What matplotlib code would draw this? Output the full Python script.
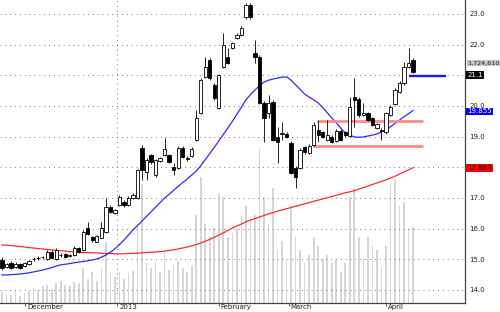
import matplotlib
matplotlib.use("Agg")
import matplotlib.pyplot as plt
import numpy as np

# daily candles, oldest first
opens = [14.98, 14.75, 14.88, 14.75, 14.85, 14.78, 14.85, 15.00, 15.03, 15.06,
         15.01, 15.24, 15.01, 15.13, 15.17, 15.12, 15.14, 15.37, 15.31, 16.02,
         15.73, 15.57, 15.70, 15.89, 16.71, 16.51, 16.77, 16.87, 16.77, 17.00,
         17.00, 18.63, 17.85, 18.40, 17.75, 18.21, 18.40, 18.40, 18.01, 17.98,
         18.63, 18.30, 18.37, 18.89, 19.77, 20.95, 21.50, 20.69, 19.94, 21.27,
         21.60, 21.89, 22.22, 22.32, 22.90, 23.29, 21.73, 21.60, 20.10, 19.77,
         20.13, 18.99, 19.09, 19.09, 18.79, 17.98, 17.98, 18.66, 18.47, 18.73,
         19.22, 19.15, 18.89, 18.99, 18.86, 19.19, 19.15, 19.02, 20.29, 20.23,
         19.71, 19.77, 19.61, 19.28, 19.20, 19.15, 19.71, 20.07, 20.46, 20.75,
         21.27, 21.50]
highs = [15.08, 14.88, 14.95, 14.90, 14.88, 14.92, 14.98, 15.08, 15.10, 15.12,
         15.30, 15.30, 15.37, 15.20, 15.20, 15.17, 15.42, 15.40, 15.95, 16.22,
         15.76, 15.80, 16.22, 17.00, 16.78, 16.65, 17.10, 16.92, 17.05, 17.15,
         17.95, 18.73, 18.30, 18.45, 18.28, 18.34, 18.96, 18.45, 18.14, 18.68,
         18.68, 18.37, 18.66, 19.87, 20.90, 21.60, 21.55, 20.75, 21.05, 22.38,
         21.89, 22.10, 22.38, 22.60, 23.36, 23.36, 22.15, 21.65, 20.15, 20.36,
         20.20, 19.32, 19.48, 19.15, 18.85, 18.05, 18.62, 18.70, 18.75, 19.48,
         19.54, 19.20, 19.54, 19.05, 19.25, 19.25, 19.20, 20.29, 20.91, 20.30,
         20.10, 19.82, 19.65, 19.45, 19.28, 19.82, 20.02, 20.58, 20.80, 21.43,
         21.89, 21.55]
lows = [14.65, 14.72, 14.70, 14.72, 14.68, 14.75, 14.80, 14.95, 14.98, 15.02,
        14.98, 15.00, 14.98, 15.08, 15.05, 15.08, 15.11, 15.20, 15.28, 15.80,
        15.58, 15.55, 15.68, 15.85, 16.50, 16.48, 16.74, 16.72, 16.74, 16.97,
        16.97, 17.59, 17.59, 18.10, 17.70, 18.18, 18.37, 18.14, 17.75, 17.95,
        18.30, 18.21, 18.34, 18.86, 19.74, 20.91, 20.85, 20.20, 19.90, 21.23,
        21.36, 21.85, 22.18, 22.28, 22.85, 22.85, 21.40, 20.05, 18.83, 19.61,
        18.85, 18.14, 18.89, 18.96, 17.78, 17.33, 17.95, 18.45, 18.44, 18.70,
        18.83, 18.95, 18.86, 18.80, 18.83, 18.86, 19.00, 18.99, 19.32, 19.65,
        19.68, 19.50, 19.35, 19.25, 18.89, 19.10, 19.68, 20.04, 20.42, 20.70,
        21.23, 21.08]
closes = [14.72, 14.85, 14.72, 14.85, 14.72, 14.88, 14.95, 15.02, 15.04, 15.08,
          15.24, 15.04, 15.31, 15.14, 15.08, 15.13, 15.37, 15.24, 15.89, 15.83,
          15.63, 15.76, 16.02, 16.71, 16.54, 16.61, 17.03, 16.77, 17.00, 17.10,
          17.91, 17.91, 18.24, 18.17, 18.24, 18.30, 18.60, 18.17, 17.91, 18.63,
          18.34, 18.28, 18.60, 19.61, 20.85, 21.27, 20.91, 20.26, 21.01, 21.99,
          21.40, 22.05, 22.32, 22.54, 23.29, 22.90, 21.60, 20.10, 19.61, 20.10,
          18.89, 18.83, 19.12, 18.99, 17.82, 17.69, 18.57, 18.50, 18.70, 19.38,
          19.05, 18.99, 19.05, 18.83, 19.19, 18.89, 19.05, 19.97, 20.20, 19.71,
          19.77, 19.54, 19.38, 19.41, 19.22, 19.77, 19.97, 20.52, 20.75, 21.27,
          21.40, 21.11]
volumes = [0.25, 0.20, 0.18, 0.30, 0.15, 0.22, 0.28, 0.35, 0.30, 0.38,
           0.40, 0.32, 0.45, 0.50, 0.42, 0.38, 0.48, 0.45, 0.80, 0.55,
           0.70, 0.50, 0.78, 1.38, 0.70, 0.60, 0.70, 0.55, 0.68, 0.72,
           1.75, 2.70, 0.90, 0.80, 0.95, 0.70, 1.15, 0.75, 0.85, 0.95,
           0.80, 0.70, 0.85, 2.00, 2.85, 1.80, 1.50, 1.70, 2.50, 2.40,
           1.50, 1.60, 1.70, 2.00, 2.20, 1.90, 2.00, 3.50, 2.40, 1.80,
           2.60, 1.20, 1.40, 1.00, 2.20, 1.50, 1.20, 0.90, 1.10, 1.50,
           1.30, 1.00, 1.10, 0.90, 1.00, 0.70, 0.90, 2.40, 2.60, 1.50,
           1.00, 1.50, 1.30, 1.20, 0.80, 1.30, 2.70, 2.80, 2.20, 2.30,
           1.70, 1.724610]  # millions

ma20 = [14.49, 14.49, 14.50, 14.51, 14.52, 14.54, 14.56, 14.59, 14.62, 14.65,
        14.69, 14.73, 14.78, 14.82, 14.84, 14.86, 14.89, 14.91, 14.93, 14.95,
        14.98, 15.01, 15.07, 15.14, 15.23, 15.34, 15.48, 15.63, 15.79, 15.96,
        16.10, 16.25, 16.40, 16.55, 16.70, 16.85, 17.00, 17.12, 17.25, 17.38,
        17.50, 17.62, 17.75, 17.88, 18.05, 18.25, 18.45, 18.65, 18.86, 19.07,
        19.28, 19.50, 19.73, 19.96, 20.20, 20.37, 20.52, 20.66, 20.78, 20.84,
        20.88, 20.91, 20.94, 20.95, 20.84, 20.69, 20.54, 20.39, 20.29, 20.20,
        20.10, 19.95, 19.78, 19.61, 19.45, 19.28, 19.12, 19.05, 18.99, 18.98,
        18.99, 19.02, 19.05, 19.09, 19.15, 19.22, 19.32, 19.43, 19.54, 19.65,
        19.75, 19.855]
ma50 = [15.47, 15.46, 15.45, 15.43, 15.42, 15.40, 15.38, 15.37, 15.35, 15.34,
        15.32, 15.31, 15.29, 15.28, 15.27, 15.25, 15.24, 15.23, 15.22, 15.22,
        15.21, 15.21, 15.20, 15.19, 15.19, 15.18, 15.18, 15.18, 15.19, 15.19,
        15.20, 15.21, 15.22, 15.23, 15.24, 15.25, 15.27, 15.29, 15.31, 15.34,
        15.37, 15.40, 15.44, 15.48, 15.53, 15.59, 15.65, 15.72, 15.79, 15.86,
        15.94, 16.02, 16.09, 16.15, 16.22, 16.28, 16.33, 16.38, 16.43, 16.48,
        16.52, 16.57, 16.61, 16.65, 16.69, 16.73, 16.77, 16.81, 16.85, 16.89,
        16.93, 16.97, 17.01, 17.05, 17.09, 17.13, 17.17, 17.20, 17.24, 17.29,
        17.34, 17.39, 17.44, 17.49, 17.54, 17.59, 17.65, 17.71, 17.78, 17.85,
        17.92, 17.988]

month_labels = ["December", "2013", "February", "March", "April"]
month_pos = [5.1, 25.5, 48.0, 63.5, 85.0]
price_ticks = [14, 15, 16, 17, 18, 19, 20, 21, 22, 23]

support = 18.70
resistance = 19.51
alert = 20.98

n = len(closes)
idx = np.arange(n)
o = np.array(opens); c = np.array(closes)
h = np.array(highs); l = np.array(lows)
up = c >= o

fig = plt.figure(figsize=(5.0, 3.12), dpi=100)
rect = [0, 9 / 312, 465 / 500, 303 / 312]
xlim = (-0.44, 102.5)

# volume in the back
axv = fig.add_axes(rect)
axv.bar(idx, np.array(volumes) * 1e6, width=0.38, color="#d6d6d6", zorder=1)
axv.set_xlim(*xlim)
axv.set_ylim(0, 6.88e6)
axv.axis("off")

ax = fig.add_axes(rect)
ax.patch.set_visible(False)
ax.set_xlim(*xlim)
ax.set_ylim(13.576, 23.456)

dots = (0, (1, 4))
for p in price_ticks:
    ax.axhline(p, color="#7a7a7a", lw=0.7, ls=dots, zorder=0)
ax.axvline(month_pos[1], color="#7a7a7a", lw=0.7, ls=dots, zorder=0)

# moving averages
ax.plot(idx, ma50, color="#ff2a2a", lw=0.9, zorder=2)
ax.plot(idx, ma20, color="#2a2aff", lw=0.9, zorder=2)

# support / resistance / alert
ax.hlines([resistance], 69.7, 93.2, color="#ff8a8a", lw=2.0, zorder=2)
ax.hlines([support], 68.9, 93.2, color="#ff8a8a", lw=2.0, zorder=2)
ax.hlines([alert], 90.1, 98.3, color="#1414ff", lw=1.7, zorder=2)

# candles
ax.vlines(idx, l, h, color="black", lw=0.6, zorder=3)
body_lo = np.minimum(o, c)
body_h = np.maximum(np.abs(c - o), 0.015)
ax.bar(idx, body_h, bottom=body_lo, width=0.72,
       color=np.where(up, "white", "black"), edgecolor="black", lw=0.6, zorder=4)

for s in ["left", "top"]:
    ax.spines[s].set_visible(False)
for s in ["right", "bottom"]:
    ax.spines[s].set_color("#444444")
    ax.spines[s].set_linewidth(0.9)

# 18.0 and 21.0 sit under the value boxes
ax.yaxis.tick_right()
ax.set_yticks(price_ticks)
ax.set_yticklabels(["" if p in (18, 21) else f"{p:.1f}" for p in price_ticks])
ax.tick_params(axis="y", length=0, pad=3, labelsize=5, labelcolor="#222222")

ax.set_xticks(month_pos)
ax.set_xticklabels([])
ax.tick_params(axis="x", length=2.2, width=0.6, color="#444444")
for pos, lab in zip(month_pos, month_labels):
    ax.text(pos + 0.45, -0.004, lab, transform=ax.get_xaxis_transform(),
            ha="left", va="top", fontsize=5, color="#222222")

# last value boxes on the price scale
ytr = ax.get_yaxis_transform()
def tag(y, s, bg, fg, size=5):
    ax.text(1.005, y, s, transform=ytr, ha="left", va="center", fontsize=size,
            color=fg, clip_on=False,
            bbox=dict(boxstyle="square,pad=0.12", fc=bg, ec="none"))

tag(21.40, f"{volumes[-1] * 1e6:,.0f}", "#c8c8c8", "#222222", size=4.6)
tag(closes[-1] - 0.1, f"{closes[-1]:.1f}", "black", "white")
tag(ma20[-1] - 0.03, f"{ma20[-1]:.3f}", "#0000ff", "white")
tag(ma50[-1], f"{ma50[-1]:.3f}", "#ff0000", "#111111")

fig.savefig("out.png", dpi=100)
